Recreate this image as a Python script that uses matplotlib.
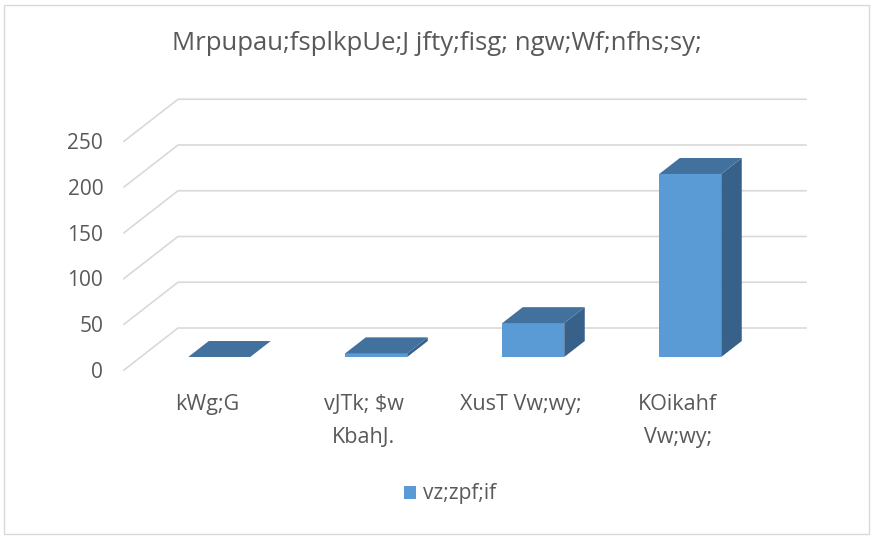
import matplotlib
matplotlib.use("Agg")
import matplotlib.pyplot as plt
from matplotlib.patches import Polygon, Rectangle
import numpy as np

plt.rcParams['font.family'] = ['Open Sans', 'DejaVu Sans']

# data
title = "Mrpupau;fsplkpUe;J jfty;fisg; ngw;Wf;nfhs;sy;"
categories = ["kWg;G", "vJTk; $w\nKbahJ.", "XusT Vw;wy;", "KOikahf\nVw;wy;"]
values = [0, 4, 37, 200]
series_name = "vz;zpf;if"
yticks = [0, 50, 100, 150, 200, 250]

front_col = "#5b9bd5"
top_col = "#41719c"
side_col = "#386189"
grid_col = "#d9d9d9"
text_col = "#595959"

W, H = 874, 538
fig = plt.figure(figsize=(W / 100, H / 100), dpi=100)

# plot box in pixels: floor front-left corner and top of back wall
px_left, px_right = 124, 806
px_bottom, px_top = 370, 100
ax = fig.add_axes([px_left / W, 1 - px_bottom / H,
                   (px_right - px_left) / W, (px_bottom - px_top) / H])
ax.patch.set_alpha(0)
for s in ax.spines.values():
    s.set_visible(False)

n = len(categories)
slot_px = 157.0
unit_px = 0.915
ax.set_xlim(0, (px_right - px_left) / slot_px)
ax.set_ylim(0, (px_bottom - px_top) / unit_px)

# oblique depth vector (full depth) in data units
dx = 54 / slot_px
dy = 42 / unit_px
d0, d1 = 0.31, 0.69
bw = 62 / slot_px

# gridlines: front-left -> back-left -> back-right
for v in yticks:
    ax.plot([0, dx, dx + n], [v, v + dy, v + dy], color=grid_col, lw=1.2,
            clip_on=False, zorder=1)

# bars
centers = np.arange(n) + 0.5
ax.bar(centers + d0 * dx, values, width=bw, bottom=d0 * dy, color=front_col,
       zorder=3, clip_on=False)
ddx, ddy = (d1 - d0) * dx, (d1 - d0) * dy
for c, v in zip(centers, values):
    xl = c + d0 * dx - bw / 2
    xr = xl + bw
    yb = d0 * dy
    yt = yb + v
    top = Polygon([(xl, yt), (xr, yt), (xr + ddx, yt + ddy), (xl + ddx, yt + ddy)],
                  closed=True, facecolor=top_col, edgecolor="none", zorder=4,
                  clip_on=False)
    side = Polygon([(xr, yb), (xr + ddx, yb + ddy), (xr + ddx, yt + ddy), (xr, yt)],
                   closed=True, facecolor=side_col, edgecolor="none", zorder=4,
                   clip_on=False)
    ax.add_patch(side)
    ax.add_patch(top)

# y tick labels
ax.set_yticks(yticks)
ax.set_yticklabels([str(v) for v in yticks], fontsize=15, color=text_col)
ax.tick_params(axis='y', length=0, pad=15)
ax.set_xticks([])

# category labels
for c, lab in zip(centers, categories):
    ax.text(c + 0.08 * dx, -26, lab, ha='center', va='top', fontsize=15.5,
            color=text_col, linespacing=1.75, clip_on=False)

fig.text(0.5, 1 - 44 / H, title, ha='center', va='center', fontsize=18.5,
         color=text_col)

# legend
leg_h = ax.bar([0], [0], color=front_col)
fig.legend([leg_h], [series_name], loc='center', bbox_to_anchor=(450 / W, 1 - 494 / H),
           frameon=False, fontsize=15, labelcolor=text_col, handlelength=0.6,
           handleheight=0.6, handletextpad=0.35)

# chart border
fig.patches.append(Rectangle((4 / W, 4 / H), 1 - 9 / W, 1 - 9 / H,
                             transform=fig.transFigure, fill=False,
                             edgecolor=grid_col, lw=1))

fig.savefig("out.png", dpi=100)
